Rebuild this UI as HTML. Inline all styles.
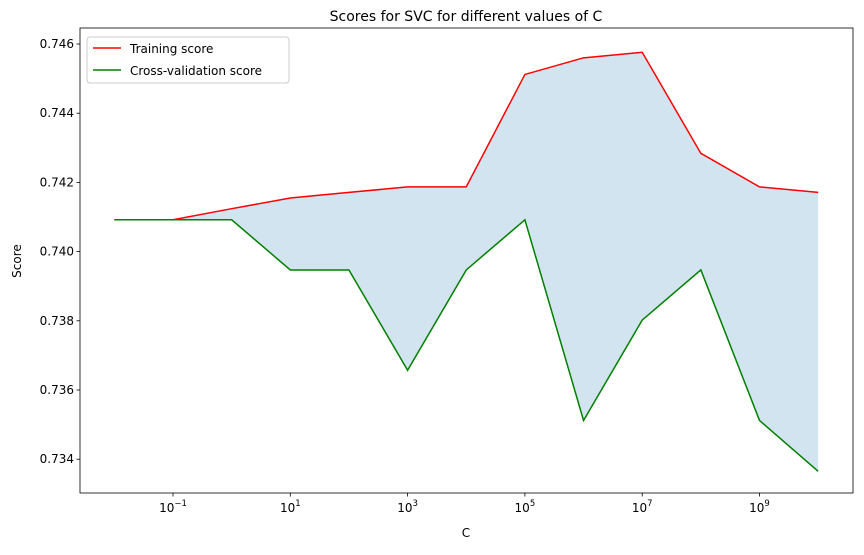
<!DOCTYPE html>
<html><head><meta charset="utf-8"><style>
body{margin:0;background:#fff;font-family:"Liberation Sans","DejaVu Sans",sans-serif}
svg text{font-family:"DejaVu Sans","Liberation Sans",sans-serif;fill:#000}
</style></head><body>
<svg id="chart" width="864" height="550" xmlns="http://www.w3.org/2000/svg"></svg>
<script>
const exponents=[-2,-1,0,1,2,3,4,5,6,7,8,9,10];
const trainScores=[0.74092,0.74092,0.74124,0.74155,0.74171,0.74187,0.74187,0.74512,0.74560,0.74576,0.74284,0.74187,0.74171];
const cvScores=[0.74092,0.74092,0.74092,0.73947,0.73947,0.73657,0.73947,0.74092,0.73512,0.73802,0.73947,0.73512,0.73365];
const xTickExps=[-1,1,3,5,7,9];
const yTicks=[0.734,0.736,0.738,0.740,0.742,0.744,0.746];
const NS="http://www.w3.org/2000/svg";
const svg=document.getElementById('chart');
const L=80,R=853,T=28,B=493;
const xs=e=>173+(e+1)*58.65;
const ys=v=>44+(0.746-v)/0.002*69.2;
function mk(t,a,p){const el=document.createElementNS(NS,t);for(const k in a)el.setAttribute(k,a[k]);(p||svg).appendChild(el);return el;}
let pts=exponents.map((e,i)=>xs(e)+','+ys(trainScores[i]));
pts=pts.concat(exponents.map((e,i)=>xs(e)+','+ys(cvScores[i])).reverse());
const band=mk('polygon',{points:pts.join(' '),fill:'#1f77b4','fill-opacity':0.2});


const tl=mk('polyline',{points:exponents.map((e,i)=>xs(e)+','+ys(trainScores[i])).join(' '),fill:'none',stroke:'#ff0000','stroke-width':1.5});


const cl=mk('polyline',{points:exponents.map((e,i)=>xs(e)+','+ys(cvScores[i])).join(' '),fill:'none',stroke:'#008000','stroke-width':1.5});


const fr=mk('rect',{x:L,y:T,width:R-L,height:B-T,fill:'none',stroke:'#000','stroke-width':0.8});


xTickExps.forEach(e=>{const x=xs(e);mk('line',{x1:x,x2:x,y1:B,y2:B+3.5,stroke:'#000','stroke-width':0.8});
 const t=mk('text',{x:x,y:B+19,'text-anchor':'middle','font-size':12});
 
 
 t.innerHTML='10<tspan dy="-6" font-size="8.5">'+(e<0?'\u2212'+(-e):e)+'</tspan>';});
yTicks.forEach(v=>{const y=ys(v);mk('line',{x1:L-3.5,x2:L,y1:y,y2:y,stroke:'#000','stroke-width':0.8});
 const t=mk('text',{x:L-6,y:y+4,'text-anchor':'end','font-size':12});
 
 
 t.textContent=v.toFixed(3);});
let t=mk('text',{x:466,y:21,'text-anchor':'middle','font-size':14});t.textContent='Scores for SVC for different values of C';


t=mk('text',{x:466,y:537,'text-anchor':'middle','font-size':12});t.textContent='C';


t=mk('text',{x:21,y:261,'text-anchor':'middle','font-size':12,transform:'rotate(-90 21 261)'});t.textContent='Score';


const lg=mk('g',{});


mk('rect',{x:87,y:37,width:202,height:46,rx:3,fill:'#fff','fill-opacity':0.8,stroke:'#ccc'},lg);
mk('line',{x1:93,x2:121,y1:48,y2:48,stroke:'#ff0000','stroke-width':1.5},lg);
t=mk('text',{x:130,y:53,'font-size':12},lg);t.textContent='Training score';


mk('line',{x1:93,x2:121,y1:70,y2:70,stroke:'#008000','stroke-width':1.5},lg);
t=mk('text',{x:130,y:75,'font-size':12},lg);t.textContent='Cross-validation score';


</script>
</body></html>
